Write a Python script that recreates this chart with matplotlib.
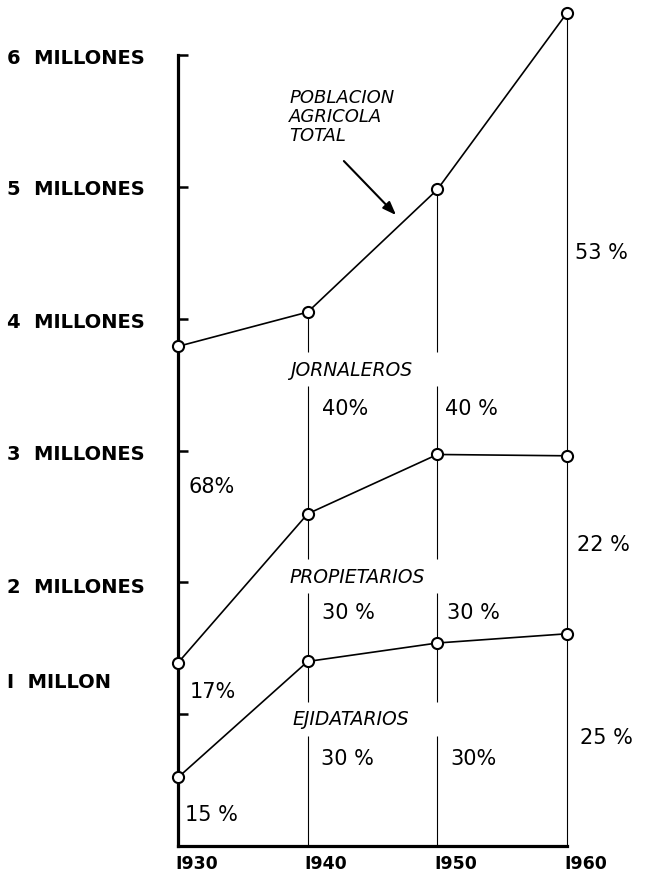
import numpy as np
import matplotlib.pyplot as plt
import matplotlib.transforms as mtransforms

# population (millions), cumulative from the bottom
years = [1930, 1940, 1950, 1960]
total = [3.79, 4.05, 4.98, 6.32]
prop_plus_ejid = [1.39, 2.52, 2.97, 2.96]
ejidatarios = [0.52, 1.40, 1.54, 1.61]

ytick_vals = [1, 2, 3, 4, 5, 6]
ytick_labels = ['I  MILLON', '2  MILLONES', '3  MILLONES', '4  MILLONES',
                '5  MILLONES', '6  MILLONES']
ylabel_shift = [0.25, -0.03, -0.02, -0.02, -0.01, -0.02]
year_labels = ['I930', 'I940', 'I950', 'I960']

group_names = ['JORNALEROS', 'PROPIETARIOS', 'EJIDATARIOS']
group_pos = [(1938.63, 3.618), (1938.63, 2.048), (1938.79, 0.964)]

pct_labels = ['68%', '17%', '15 %', '40%', '40 %', '30 %', '30 %', '30 %', '30%',
              '53 %', '22 %', '25 %']
pct_pos = [(1930.77, 2.731), (1930.92, 1.176), (1930.54, 0.243),
           (1941.10, 3.323), (1950.59, 3.323),
           (1941.10, 1.775), (1950.74, 1.775),
           (1941.02, 0.668), (1950.97, 0.668),
           (1960.61, 4.506), (1960.77, 2.291), (1961.00, 0.827)]

fig = plt.figure(figsize=(6.49, 8.78), dpi=100)
ax = fig.add_axes([0, 0, 1, 1])
ax.set_xlim(1916.27, 1966.32)
ax.set_ylim(-0.235, 6.425)

# spines: thick axis at 1930 and at zero
for s in ['top', 'right']:
    ax.spines[s].set_visible(False)
ax.spines['left'].set_position(('data', 1930))
ax.spines['bottom'].set_position(('data', 0))
ax.spines['left'].set_bounds(0, 6)
ax.spines['bottom'].set_bounds(1930, 1960)
ax.spines['left'].set_linewidth(2.3)
ax.spines['bottom'].set_linewidth(2.3)

ax.set_yticks(ytick_vals)
ax.set_yticklabels([])
ax.tick_params(axis='y', direction='in', length=7, width=1.8)
ax.set_xticks(years)
ax.set_xticklabels(year_labels, ha='left', fontsize=12.5, fontweight='bold')
ax.tick_params(axis='x', length=0, pad=6)
offset = mtransforms.ScaledTranslation(-3 / 100, 0, fig.dpi_scale_trans)
for lab in ax.get_xticklabels():
    lab.set_transform(lab.get_transform() + offset)

# y labels on the left
for v, lab, sh in zip(ytick_vals, ytick_labels, ylabel_shift):
    ax.text(0.011, v + sh, lab, transform=ax.get_yaxis_transform(),
            ha='left', va='center', fontsize=14, fontweight='bold')

# thin vertical guides from the total down to the base,
# broken where the group names cross them (1940 and 1950)
gap = 0.13
for yr, top in zip(years[1:], total[1:]):
    if yr == 1960:
        ax.vlines(yr, 0, top, color='black', lw=0.8, zorder=1)
        continue
    cuts = sorted(p[1] for p in group_pos)
    lo = 0
    for c in cuts:
        ax.vlines(yr, lo, c - gap, color='black', lw=0.8, zorder=1)
        lo = c + gap
    ax.vlines(yr, lo, top, color='black', lw=0.8, zorder=1)

mk = dict(marker='o', markersize=8, markerfacecolor='white',
          markeredgecolor='black', markeredgewidth=1.5, color='black', lw=1.2, zorder=3)
ax.plot(years, total, **mk)
ax.plot(years, prop_plus_ejid, **mk)
ax.plot(years, ejidatarios, **mk)

for name, (x, y) in zip(group_names, group_pos):
    ax.text(x, y, name, ha='left', va='center', fontsize=13.5, style='italic')

for lab, (x, y) in zip(pct_labels, pct_pos):
    ax.text(x, y, lab, ha='left', va='center', fontsize=15)

ax.text(1938.56, 5.538, 'POBLACION\nAGRICOLA\nTOTAL', ha='left', va='center',
        fontsize=13, style='italic', linespacing=1.05)
ax.annotate('', xy=(1946.96, 4.771), xytext=(1942.64, 5.211),
            arrowprops=dict(arrowstyle='-|>,head_length=0.8,head_width=0.3',
                            color='black', lw=1.5))

fig.savefig('out.png', dpi=100)
